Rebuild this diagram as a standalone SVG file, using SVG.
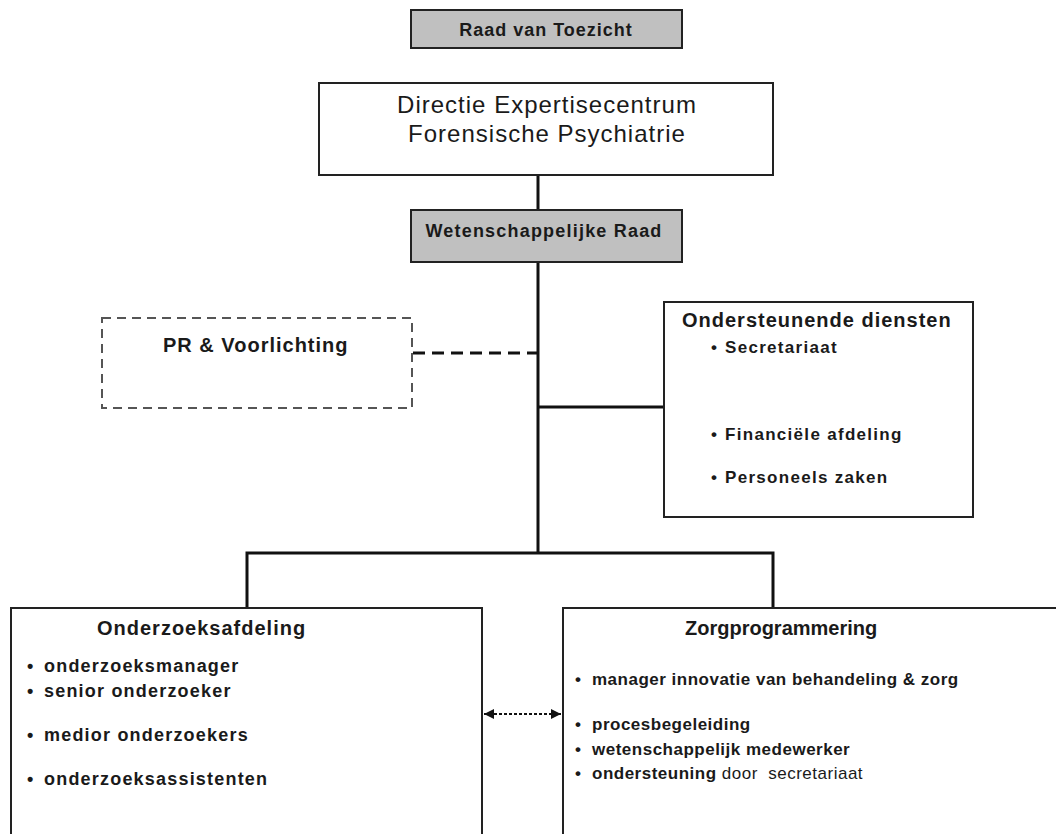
<svg xmlns="http://www.w3.org/2000/svg" width="1056" height="834" viewBox="0 0 1056 834">
<style>
text{font-family:"Liberation Sans",Arial,sans-serif;fill:#1a1a1a}
.b{font-weight:bold}
.box{fill:#fff;stroke:#222;stroke-width:2}
.gray{fill:#c0c0c0;stroke:#222;stroke-width:2}
.ln{stroke:#111;stroke-width:3;fill:none}
.it{font-weight:bold;font-size:18px;letter-spacing:1.2px}
.zi{font-weight:bold;font-size:17px;letter-spacing:0.5px}
.oi{font-weight:bold;font-size:17px;letter-spacing:1.3px}
</style>
<defs>
<marker id="ah" viewBox="0 0 10 10" refX="10" refY="5" markerWidth="10" markerHeight="10" markerUnits="userSpaceOnUse" orient="auto-start-reverse">
<path d="M0,0 L10,5 L0,10 z" fill="#111"/>
</marker>
</defs>
<rect width="1056" height="834" fill="#fff"/>
<g id="connectors">
<line class="ln" x1="538" y1="175" x2="538" y2="210"/>
<line class="ln" x1="538" y1="262" x2="538" y2="553"/>
<line x1="413" y1="353" x2="537" y2="353" stroke="#111" stroke-width="3" stroke-dasharray="12,7"/>
<line class="ln" x1="538" y1="407" x2="664" y2="407"/>
<polyline class="ln" points="247,608 247,553 773,553 773,608"/>
<line x1="484" y1="714" x2="561" y2="714" stroke="#111" stroke-width="2" stroke-dasharray="3,2" marker-start="url(#ah)" marker-end="url(#ah)"/>
</g>
<g id="raad-van-toezicht">
<rect class="gray" x="411" y="10" width="271" height="38"/>
<text class="b" x="546" y="36" font-size="18" letter-spacing="1" text-anchor="middle">Raad van Toezicht</text>
</g>
<g id="directie">
<rect class="box" x="319" y="83" width="454" height="92"/>
<text x="547" y="113" font-size="24" letter-spacing="1" text-anchor="middle">Directie Expertisecentrum</text>
<text x="547" y="142" font-size="24" letter-spacing="1" text-anchor="middle">Forensische Psychiatrie</text>
</g>
<g id="wetenschappelijke-raad">
<rect class="gray" x="411" y="210" width="271" height="52"/>
<text class="b" x="544" y="237" font-size="18" letter-spacing="1.2" text-anchor="middle">Wetenschappelijke Raad</text>
</g>
<g id="pr-voorlichting">
<rect x="102" y="318" width="310" height="90" fill="#fff" stroke="#555" stroke-width="2" stroke-dasharray="9,6"/>
<text class="b" x="163" y="352" font-size="20" letter-spacing="1">PR &amp; Voorlichting</text>
</g>
<g id="ondersteunende-diensten">
<rect class="box" x="664" y="302" width="309" height="215"/>
<text class="b" x="682" y="327" font-size="20" letter-spacing="1">Ondersteunende diensten</text>
<text class="oi" x="711" y="353">•</text><text class="oi" x="725" y="353">Secretariaat</text>
<text class="oi" x="711" y="440">•</text><text class="oi" x="725" y="440">Financiële afdeling</text>
<text class="oi" x="711" y="483">•</text><text class="oi" x="725" y="483">Personeels zaken</text>
</g>
<g id="onderzoeksafdeling">
<rect class="box" x="11" y="608" width="471" height="240"/>
<text class="b" x="97" y="635" font-size="20" letter-spacing="1">Onderzoeksafdeling</text>
<text class="it" x="27" y="672">•</text><text class="it" x="44" y="672">onderzoeksmanager</text>
<text class="it" x="27" y="697">•</text><text class="it" x="44" y="697">senior onderzoeker</text>
<text class="it" x="27" y="741">•</text><text class="it" x="44" y="741">medior onderzoekers</text>
<text class="it" x="27" y="785">•</text><text class="it" x="44" y="785">onderzoeksassistenten</text>
</g>
<g id="zorgprogrammering">
<rect class="box" x="563" y="608" width="500" height="240"/>
<text class="b" x="685" y="635" font-size="20">Zorgprogrammering</text>
<text class="zi" x="575" y="685">•</text><text class="zi" x="592" y="685">manager innovatie van behandeling &amp; zorg</text>
<text class="zi" x="575" y="730">•</text><text class="zi" x="592" y="730">procesbegeleiding</text>
<text class="zi" x="575" y="755">•</text><text class="zi" x="592" y="755">wetenschappelijk medewerker</text>
<text class="zi" x="575" y="779">•</text><text class="zi" x="592" y="779">ondersteuning <tspan font-weight="normal">door&#160; secretariaat</tspan></text>
</g>
</svg>
